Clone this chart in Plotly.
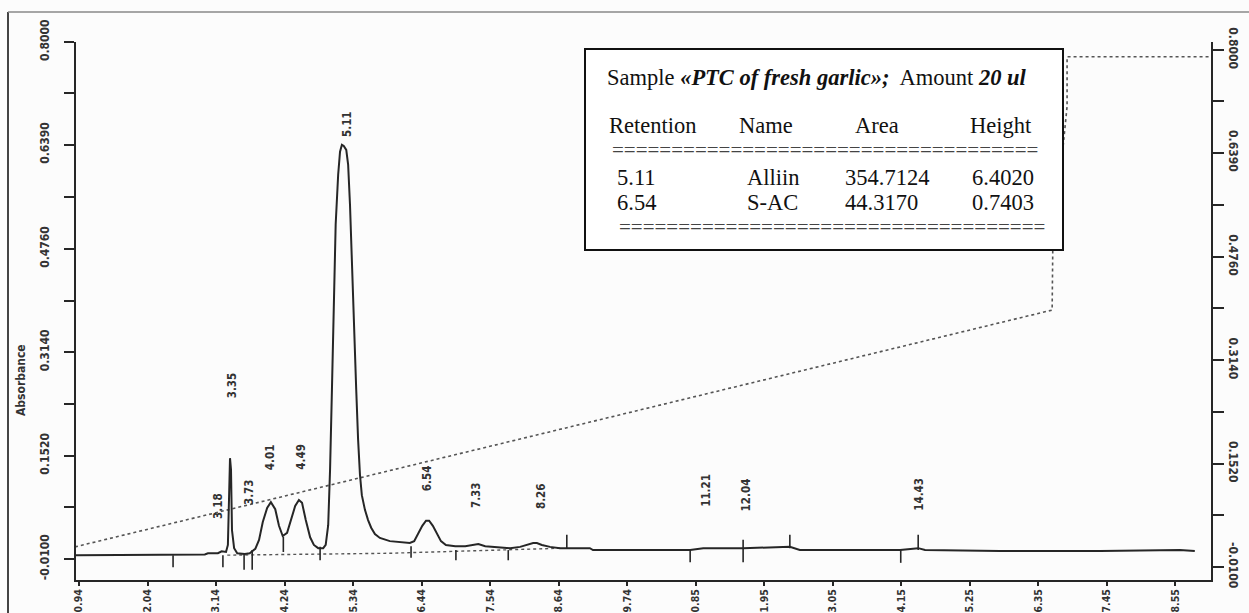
import plotly.graph_objects as go

# ---------------- data ----------------
time_min = [0.89, 2.08, 2.45, 2.96, 3.01, 3.17, 3.23, 3.30, 3.33, 3.348, 3.364, 3.38, 3.396, 3.43, 3.48,
            3.60, 3.68, 3.77, 3.83, 3.89, 3.96, 4.02, 4.09, 4.15, 4.21, 4.28, 4.34, 4.41, 4.47, 4.52,
            4.58, 4.65, 4.71, 4.78, 4.86, 4.90, 4.94, 4.97, 5.00, 5.03, 5.06, 5.10, 5.13, 5.16, 5.19,
            5.23, 5.26, 5.29, 5.32, 5.35, 5.39, 5.42, 5.45, 5.48, 5.53, 5.58, 5.63, 5.69, 5.77, 5.93,
            6.09, 6.25, 6.32, 6.38, 6.45, 6.51, 6.56, 6.62, 6.69, 6.75, 6.83, 6.98, 7.14, 7.25, 7.35,
            7.46, 7.62, 7.86, 8.02, 8.13, 8.23, 8.29, 8.37, 8.50, 8.66, 9.14, 9.19, 10.75, 10.96, 11.50,
            11.60, 12.35, 12.51, 14.12, 14.28, 14.41, 14.52, 15.72, 17.33, 18.61, 18.85]
absorbance = [-0.004, -0.004, -0.004, -0.003, -0.001, -0.001, 0.002, 0.001, 0.012, 0.083, 0.148, 0.130, 0.035, 0.007, -0.001,
              -0.002, -0.001, 0.006, 0.020, 0.048, 0.070, 0.079, 0.068, 0.042, 0.026, 0.031, 0.051, 0.073, 0.0825, 0.078,
              0.051, 0.024, 0.012, 0.007, 0.007, 0.012, 0.043, 0.130, 0.255, 0.396, 0.514, 0.592, 0.628, 0.639, 0.637,
              0.631, 0.608, 0.545, 0.451, 0.349, 0.255, 0.177, 0.122, 0.090, 0.067, 0.051, 0.039, 0.029, 0.023, 0.018,
              0.017, 0.015, 0.018, 0.029, 0.042, 0.050, 0.050, 0.042, 0.028, 0.018, 0.012, 0.010, 0.010, 0.012, 0.0135,
              0.010, 0.009, 0.007, 0.009, 0.012, 0.015, 0.015, 0.012, 0.009, 0.007, 0.007, 0.004, 0.004, 0.007, 0.007,
              0.007, 0.009, 0.004, 0.004, 0.006, 0.007, 0.004, 0.0025, 0.0025, 0.004, 0.0025]

# gradient / programme trace (dotted)
grad_time = [0.876, 16.56, 16.57, 16.80, 16.80, 19.09]
grad_value = [0.009, 0.380, 0.474, 0.699, 0.777, 0.777]

# integration baseline (dotted) under the peaks
base_time = [3.32, 5.93, 8.71]
base_value = [-0.004, -0.001, 0.007]

# integration event markers
marker_time = [2.45, 3.25, 3.59, 3.72, 4.22, 4.81, 6.27, 6.99, 7.83, 8.77, 10.75, 11.60, 12.35, 14.13, 14.41]
marker_top = [-0.004, -0.004, -0.001, 0.004, 0.025, 0.009, 0.010, 0.004, 0.004, 0.028, 0.004, 0.020, 0.028, 0.004, 0.028]
marker_bottom = [-0.023, -0.023, -0.027, -0.027, 0.001, -0.012, -0.008, -0.012, -0.012, 0.007, -0.015, -0.015, 0.007, -0.016, 0.004]

# peak retention labels
peak_labels = ["3.18", "3.35", "3.73", "4.01", "4.49", "5.11", "6.54", "7.33", "8.26", "11.21", "12.04", "14.43"]
peak_label_time = [3.17, 3.41, 3.67, 4.01, 4.50, 5.23, 6.53, 7.31, 8.36, 11.00, 11.65, 14.42]
peak_label_value = [0.073, 0.262, 0.095, 0.150, 0.150, 0.672, 0.117, 0.090, 0.089, 0.098, 0.090, 0.092]

# axis ticks
y_tick_vals = [-0.01, 0.071, 0.152, 0.233, 0.314, 0.395, 0.476, 0.5575, 0.639, 0.7195, 0.80]
y_tick_text = ["-0.0100", "", "0.1520", "", "0.3140", "", "0.4760", "", "0.6390", "", "0.8000"]
x_tick_vals = [0.94, 2.04, 3.14, 4.24, 5.34, 6.44, 7.54, 8.64, 9.74, 10.84, 11.94, 13.04, 14.14, 15.24,
               16.34, 17.44, 18.54]
x_tick_text = ["0.94", "2.04", "3.14", "4.24", "5.34", "6.44", "7.54", "8.64", "9.74", "10.85", "11.95",
               "13.05", "14.15", "15.25", "16.35", "17.45", "18.55"]

# results table
table_title = "Sample <b><i>«PTC of fresh garlic»;</i></b>&nbsp; Amount <b><i>20 ul</i></b>"
table_header = ["Retention", "Name", "Area", "Height"]
table_rows = [["5.11", "Alliin", "354.7124", "6.4020"],
              ["6.54", "S-AC", "44.3170", "0.7403"]]

# ---------------- layout geometry ----------------
W, H = 1249, 613
L, R, T, B = 76, 1211, 42, 580


def px_x(px):
    return (px - L) / (R - L)


def px_y(py):
    return 1 - (py - T) / (B - T)


COND = "DejaVu Sans Condensed, Liberation Sans Narrow, Arial Narrow, sans-serif"
SERIF = "Liberation Serif, Times New Roman, serif"
INK = "#262626"

fig = go.Figure()

fig.add_trace(go.Scatter(x=grad_time, y=grad_value, mode="lines",
                         line=dict(color="#555555", width=1.6, dash="dot"),
                         hoverinfo="skip", showlegend=False))
fig.add_trace(go.Scatter(x=base_time, y=base_value, mode="lines",
                         line=dict(color="#555555", width=1.4, dash="dot"),
                         hoverinfo="skip", showlegend=False))
fig.add_trace(go.Scatter(x=time_min, y=absorbance, mode="lines",
                         line=dict(color=INK, width=2),
                         showlegend=False))

mx, my = [], []
for t, a, b in zip(marker_time, marker_top, marker_bottom):
    mx += [t, t, None]
    my += [a, b, None]
fig.add_trace(go.Scatter(x=mx, y=my, mode="lines", line=dict(color=INK, width=1.6),
                         hoverinfo="skip", showlegend=False))

# dummy trace to carry the right-hand axis
fig.add_trace(go.Scatter(x=[None], y=[None], yaxis="y2", showlegend=False, hoverinfo="skip"))

tick_font = dict(family=COND, size=12, color="#333333", weight="bold")

fig.update_layout(
    width=W, height=H, autosize=False,
    margin=dict(l=L, r=W - R, t=T, b=H - B, pad=0),
    paper_bgcolor="#fcfcfc", plot_bgcolor="#fcfcfc",
    showlegend=False,
    xaxis=dict(range=[0.892, 19.11], tickmode="array", tickvals=x_tick_vals, ticktext=x_tick_text,
               tickangle=-90, ticks="outside", ticklen=4, tickwidth=1.5, tickcolor=INK,
               showline=True, linecolor=INK, linewidth=2, showgrid=False, zeroline=False,
               automargin=False, ticklabelstandoff=-1,
               tickfont=dict(family=COND, size=10.5, color="#333333", weight="bold")),
    yaxis=dict(range=[-0.0429, 0.80], tickmode="array", tickvals=y_tick_vals, ticktext=y_tick_text,
               tickangle=-90, ticks="outside", ticklen=10, tickwidth=2, tickcolor=INK,
               showline=True, linecolor=INK, linewidth=2, showgrid=False, zeroline=False,
               automargin=False, ticklabelstandoff=10, tickfont=tick_font),
    yaxis2=dict(range=[-0.0304, 0.8125], overlaying="y", side="right", tickmode="array",
                tickvals=y_tick_vals, ticktext=y_tick_text, tickangle=90, ticks="outside",
                ticklen=11, tickwidth=2, tickcolor=INK, showline=True, linecolor=INK, linewidth=2,
                showgrid=False, zeroline=False, automargin=False, ticklabelstandoff=0,
                tickfont=tick_font),
)

shapes = [
    # outer scan border
    dict(type="line", xref="paper", yref="paper", x0=px_x(8), x1=px_x(8), y0=px_y(12), y1=px_y(620),
         line=dict(color="#444444", width=2)),
    dict(type="line", xref="paper", yref="paper", x0=px_x(8), x1=px_x(1260), y0=px_y(12), y1=px_y(12),
         line=dict(color="#8a8a8a", width=1.5)),
    # results box
    dict(type="rect", xref="paper", yref="paper", x0=px_x(585), x1=px_x(1063), y0=px_y(250), y1=px_y(49),
         line=dict(color="#111111", width=2), fillcolor="white", layer="above"),
]
fig.update_layout(shapes=shapes)

ann = []
for txt, t, v in zip(peak_labels, peak_label_time, peak_label_value):
    ann.append(dict(x=t, y=v, xref="x", yref="y", text=txt, showarrow=False, textangle=-90,
                    xanchor="center", yanchor="middle",
                    font=dict(family=COND, size=11.5, color="#333333", weight="bold")))

ann.append(dict(x=px_x(21), y=px_y(380), xref="paper", yref="paper", text="Absorbance", showarrow=False,
                textangle=-90, xanchor="center", yanchor="middle",
                font=dict(family=COND, size=12, color="#333333", weight="bold")))

box_font = dict(family=SERIF, size=22.5, color="#111111")
ann.append(dict(x=px_x(605), y=px_y(77), xref="paper", yref="paper", text=table_title, showarrow=False,
                xanchor="left", yanchor="middle", font=dict(family=SERIF, size=22.5, color="#111111")))
for txt, px in zip(table_header, [607, 737, 853, 968]):
    ann.append(dict(x=px_x(px), y=px_y(125), xref="paper", yref="paper", text=txt, showarrow=False,
                    xanchor="left", yanchor="middle", font=box_font))
for row, py in zip(table_rows, [177, 202]):
    for txt, px in zip(row, [615, 745, 843, 970]):
        ann.append(dict(x=px_x(px), y=px_y(py), xref="paper", yref="paper", text=txt, showarrow=False,
                        xanchor="left", yanchor="middle", font=box_font))
rule = "=" * 36
for px, py in [(610, 150), (617, 227)]:
    ann.append(dict(x=px_x(px), y=px_y(py), xref="paper", yref="paper", text=rule, showarrow=False,
                    xanchor="left", yanchor="middle",
                    font=dict(family=SERIF, size=21, color="#444444")))
fig.update_layout(annotations=ann)

fig.write_html("out.html", config={"displayModeBar": False},
               post_script="document.body.style.margin='0';")
